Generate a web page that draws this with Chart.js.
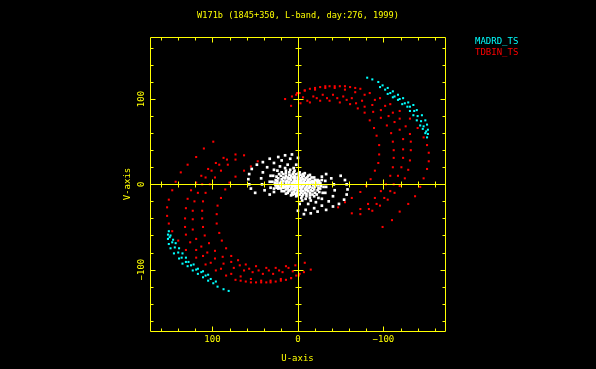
<!DOCTYPE html>
<html><head><meta charset="utf-8">
<script src="https://cdn.jsdelivr.net/npm/chart.js@4"></script>
<style>html,body{margin:0;padding:0;background:#000;overflow:hidden}canvas{display:block}</style>
</head><body>
<canvas id="c" width="596" height="369"></canvas>
<script>
const chartTitle = 'W171b (1845+350, L-band, day:276, 1999)';
const seriesNames = ['MADRD_TS', 'TDBIN_TS'];
const xAxisLabel = 'U-axis';
const yAxisLabel = 'V-axis';
const tickValues = [-100, 0, 100];
const tickLabels = ['\u2212100', '0', '100'];

// (u, v) samples of one half-plane; the conjugate (-u, -v) half is added below
const madrdRow1 = [[-81,125],[-87,123],[-94,120],[-99,116],[-105,113],[-111,109],[-117,105],[-123,101],[-129,96],[-135,93],[-139,87],[-145,81],[-149,75],[-151,70],[-152,64],[-152,59]];
const madrdRow2 = [[-96,114],[-102,111],[-108,107],[-113,103],[-119,100],[-125,95],[-131,91],[-136,86],[-140,80],[-144,74],[-147,68],[-150,62],[-151,55]];
const madrdRow3 = [[-105,106],[-111,102],[-117,99],[-122,94],[-128,91],[-131,86],[-135,81],[-139,75],[-143,69],[-146,65],[-149,60]];

const tdbinTrackA = [[15,100],[7,103],[2,105],[-2,107],[-8,110],[-14,112],[-20,113],[-26,114],[-32,115],[-37,115],[-43,115],[-49,115],[-55,115],[-61,114],[-67,113],[-73,112],[-84,107],[-96,101],[-108,94],[-119,86],[-131,77],[-140,66],[-147,55],[-151,46],[-153,37],[-153,27],[-151,18],[-147,7],[-143,-3],[-137,-14],[-129,-23],[-119,-32],[-110,-42],[-99,-50]];
const tdbinTrackE = [[1,107],[-8,110],[-20,111],[-32,113],[-43,113],[-55,111],[-67,108],[-78,105],[-90,99],[-102,92],[-111,84],[-119,77],[-126,68],[-131,59],[-132,50],[-132,40],[-131,28],[-129,17],[-125,7],[-119,-2],[-113,-10],[-105,-18],[-96,-25],[-87,-31]];
const tdbinTrackD = [[-6,102],[-18,103],[-29,105],[-41,105],[-53,103],[-63,101],[-75,98],[-87,93],[-97,87],[-106,80],[-113,73],[-119,64],[-123,53],[-123,41],[-123,31],[-121,20],[-117,10],[-112,0],[-108,-8],[-101,-16],[-92,-23],[-83,-29],[-73,-35]];
const tdbinTrackC = [[-11,98],[-22,101],[-34,101],[-46,101],[-57,99],[-68,95],[-78,91],[-88,85],[-97,78],[-104,69],[-109,60],[-111,50],[-112,40],[-112,31],[-111,20],[-108,10],[-103,0],[-97,-8],[-90,-16],[-82,-23],[-73,-29],[-63,-34]];
const tdbinTrackB = [[8,92],[-3,95],[-14,96],[-26,98],[-37,98],[-49,96],[-61,94],[-70,89],[-78,84],[-84,75],[-89,66],[-92,57],[-95,46],[-95,35],[-94,25],[-90,16],[-85,6],[-80,-2],[-73,-9],[-63,-16],[-55,-21],[-47,-27]];

const shortRing1 = [[7,35],[15,34],[23,32],[33,30],[41,26],[48,23],[54,18],[57,12],[58,6],[57,0],[55,-5],[50,-10]];
const shortRing2 = [[0,31],[9,30],[19,28],[28,25],[36,20],[41,14],[43,7],[42,0],[39,-7],[33,-12]];
const shortRing3 = [[2,23],[12,23],[21,21],[28,17],[32,10],[33,3],[32,-4],[28,-9]];
const shortRing4 = [[5,19],[15,19],[24,16],[29,10],[30,3],[28,-5]];
const shortRing5 = [[-26,1],[-23,5],[-19,8],[-14,11],[-8,13],[-2,14],[4,16],[9,17],[14,16],[19,14],[22,12],[25,9],[26,5],[27,2],[26,-1],[25,-4]];
const shortRing6 = [[-20,5],[-16,8],[-12,10],[-6,12],[-1,13],[5,14],[10,14],[14,13],[17,12],[20,10],[23,7],[24,4],[24,1],[23,-2],[22,-4]];
const shortRing7 = [[-17,4],[-14,6],[-11,8],[-7,10],[-3,11],[2,12],[6,12],[10,11],[14,10],[17,8],[19,6],[20,3],[21,1],[20,-1],[19,-3]];
const shortRing8 = [[-15,3],[-12,5],[-9,7],[-5,9],[-1,10],[4,10],[8,10],[12,8],[15,7],[17,4],[18,1],[17,-2]];
const shortRing9 = [[-13,2],[-11,3],[-8,5],[-6,6],[-3,7],[0,8],[3,8],[6,8],[9,7],[11,6],[13,4],[14,3],[14,1],[14,-1],[12,-3]];
const shortRing10 = [[-10,1],[-7,3],[-4,5],[0,6],[4,6],[8,5],[10,3],[11,1],[10,-1]];
const shortRing11 = [[-7,1],[-5,2],[-3,3],[-2,4],[0,4],[2,4],[4,4],[5,3],[6,2],[7,1],[7,0],[6,-1]];
const shortRing12 = [[-2,1],[0,1],[2,1],[3,0],[1,2]];

const withConjugates = tracks => {
  const pts = [];
  tracks.forEach(t => t.forEach(([u, v]) => { pts.push({x: u, y: v}); pts.push({x: -u, y: -v}); }));
  return pts;
};

const yellow = '#ffff00';
const monoFont = 'DejaVu Sans Mono';

const pgplotFrame = {
  id: 'pgplotFrame',
  afterDatasetsDraw(chart) {
    const {ctx, chartArea: a, scales: {x, y}} = chart;
    ctx.save();
    ctx.strokeStyle = yellow;
    ctx.lineWidth = 1;
    const L = Math.round(a.left) + 0.5, R = Math.round(a.right) + 0.5;
    const T = Math.round(a.top) + 0.5, B = Math.round(a.bottom) + 0.5;
    const x0 = Math.round(x.getPixelForValue(0)) + 0.5;
    const y0 = Math.round(y.getPixelForValue(0)) + 0.5;
    ctx.beginPath();
    ctx.rect(L, T, R - L, B - T);
    ctx.moveTo(x0, T); ctx.lineTo(x0, B);
    ctx.moveTo(L, y0); ctx.lineTo(R, y0);
    for (let v = -160; v <= 160; v += 20) {
      const major = v % 100 === 0;
      const len = major ? 5 : 3;
      const px = Math.round(x.getPixelForValue(v)) + 0.5;
      const py = Math.round(y.getPixelForValue(v)) + 0.5;
      ctx.moveTo(px, B); ctx.lineTo(px, B - len);
      ctx.moveTo(px, T); ctx.lineTo(px, T + len);
      ctx.moveTo(L, py); ctx.lineTo(L + len, py);
      ctx.moveTo(R, py); ctx.lineTo(R - len, py);
      if (v !== 0) {
        ctx.moveTo(px, y0 - len); ctx.lineTo(px, y0 + len);
        ctx.moveTo(x0 - len, py); ctx.lineTo(x0 + len, py);
      }
    }
    ctx.stroke();
    ctx.restore();
  },
  afterDraw(chart) {
    const {ctx, scales: {y}} = chart;
    ctx.save();
    ctx.font = '9px "' + monoFont + '"';
    ctx.fillStyle = yellow;
    ctx.textAlign = 'center';
    ctx.textBaseline = 'middle';
    tickValues.forEach((v, i) => {
      ctx.save();
      ctx.translate(141.5, y.getPixelForValue(v));
      ctx.rotate(-Math.PI / 2);
      ctx.fillText(tickLabels[i], 0, 0);
      ctx.restore();
    });
    ctx.textAlign = 'left';
    let ly = 41.5;
    chart.data.datasets.forEach(ds => {
      if (!ds.label) return;
      ctx.fillStyle = ds.backgroundColor;
      ctx.fillText(ds.label, 475, ly);
      ly += 11;
    });
    ctx.restore();
  }
};

new Chart(document.getElementById('c'), {
  type: 'scatter',
  data: {
    datasets: [
      { label: seriesNames[0], data: withConjugates([madrdRow1, madrdRow2, madrdRow3]),
        backgroundColor: '#00ffff', borderColor: '#00ffff', order: 3 },
      { label: seriesNames[1], data: withConjugates([tdbinTrackA, tdbinTrackE, tdbinTrackD, tdbinTrackC, tdbinTrackB]),
        backgroundColor: '#ff0000', borderColor: '#ff0000', order: 2 },
      { label: '', data: withConjugates([shortRing1, shortRing2, shortRing3, shortRing4, shortRing5, shortRing6, shortRing7, shortRing8, shortRing9, shortRing10, shortRing11, shortRing12]),
        backgroundColor: '#ffffff', borderColor: '#ffffff', order: 1, pointRadius: 1.9 }
    ]
  },
  options: {
    responsive: false,
    animation: false,
    devicePixelRatio: 1,
    layout: { padding: 0 },
    elements: { point: { pointStyle: 'rect', radius: 1.45, borderWidth: 0, hoverRadius: 1.45 } },
    plugins: {
      legend: { display: false },
      tooltip: { enabled: false },
      title: { display: true, text: chartTitle, color: yellow,
        font: { family: monoFont, size: 8.6, weight: 'normal' }, padding: { top: 11, bottom: 15.7 } }
    },
    scales: {
      x: {
        type: 'linear', reverse: true, min: -172, max: 173,
        grid: { display: false, drawTicks: false }, border: { display: false },
        afterBuildTicks: s => { s.ticks = tickValues.map(v => ({ value: v })); },
        afterFit: s => { s.height = 38; },
        ticks: { color: yellow, font: { family: monoFont, size: 9 }, padding: 3, autoSkip: false, maxRotation: 0,
          callback: v => tickLabels[tickValues.indexOf(v)] },
        title: { display: true, text: xAxisLabel, color: yellow, font: { family: monoFont, size: 9 }, padding: { top: 0, bottom: 4.6 } }
      },
      y: {
        type: 'linear', min: -172, max: 172.7,
        grid: { display: false, drawTicks: false }, border: { display: false },
        ticks: { display: false },
        afterFit: s => { s.width = 150; },
        title: { display: true, text: yAxisLabel, color: yellow, font: { family: monoFont, size: 9 }, padding: { top: 122, bottom: 0 } }
      },
      legendSpace: {
        type: 'linear', position: 'right', display: true,
        grid: { display: false, drawTicks: false }, border: { display: false },
        ticks: { display: false },
        afterFit: s => { s.width = 151; }
      }
    }
  },
  plugins: [pgplotFrame]
});
</script>
</body></html>
